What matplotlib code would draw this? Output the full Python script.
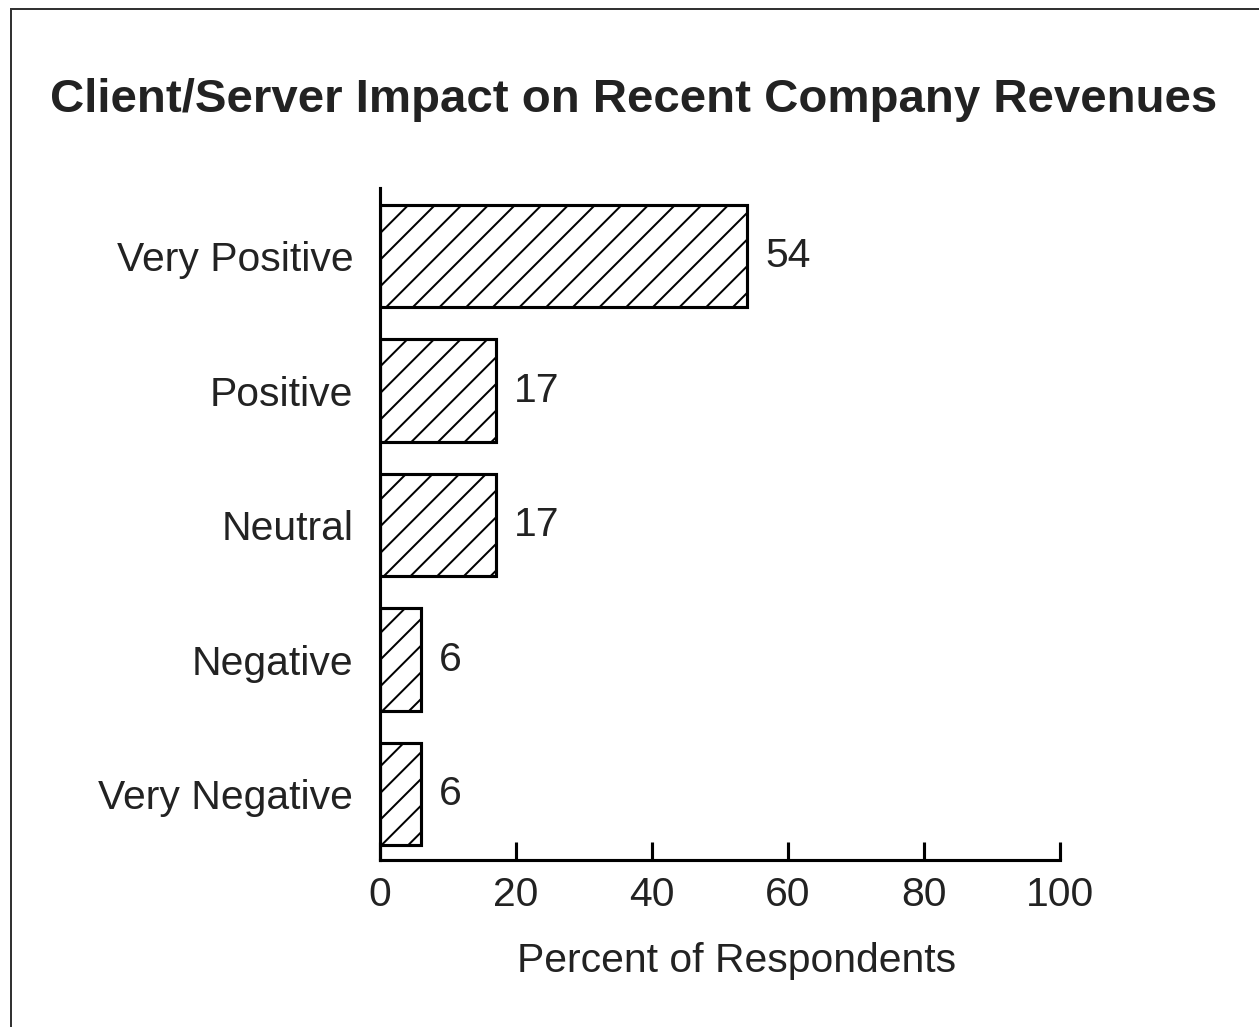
import matplotlib
matplotlib.use("Agg")
import matplotlib.pyplot as plt
from matplotlib.lines import Line2D

categories = ["Very Positive", "Positive", "Neutral", "Negative", "Very Negative"]
percents = [54, 17, 17, 6, 6]
xticks = [0, 20, 40, 60, 80, 100]

plt.rcParams['font.family'] = ['Liberation Sans', 'DejaVu Sans']
plt.rcParams['hatch.linewidth'] = 0.9
ink = '#222222'

dpi = 160
fig = plt.figure(figsize=(1259 / dpi, 1027 / dpi), dpi=dpi)
ax = fig.add_axes([380 / 1259, 167 / 1027, 680 / 1259, 672 / 1027])

ypos = list(range(len(categories) - 1, -1, -1))
ax.barh(ypos, percents, height=0.76, color='white', edgecolor='black',
        linewidth=1.4, hatch='//')

for y, v in zip(ypos, percents):
    ax.annotate(str(v), xy=(v, y), xytext=(8, 0), textcoords='offset points',
                va='center', ha='left', fontsize=18.4, color=ink)

ax.set_xlim(0, 100)
ax.set_ylim(-0.49, 4.506)
ax.set_xticks(xticks)
ax.set_yticks(ypos)
ax.set_yticklabels(categories)

for s in ['top', 'right']:
    ax.spines[s].set_visible(False)
for s in ['left', 'bottom']:
    ax.spines[s].set_linewidth(1.4)
    ax.spines[s].set_color('black')

ax.tick_params(axis='x', direction='in', length=8, width=1.4, pad=7,
               labelsize=18.4, labelcolor=ink)
ax.tick_params(axis='y', length=0, pad=12, labelsize=18.4, labelcolor=ink)

ax.set_xlabel("Percent of Respondents", fontsize=18.4, color=ink, va='center')
ax.xaxis.set_label_coords(0.525, -0.15)

fig.text(0.503, 1 - 100 / 1027, "Client/Server Impact on Recent Company Revenues",
         ha='center', va='center', fontsize=21.3, fontweight='bold', color=ink)

# scanned page frame: top and left edges only
fig.add_artist(Line2D([11 / 1259, 11 / 1259], [0, 1 - 9 / 1027],
                      transform=fig.transFigure, color='#333333', linewidth=0.9))
fig.add_artist(Line2D([11 / 1259, 1], [1 - 9 / 1027, 1 - 9 / 1027],
                      transform=fig.transFigure, color='#333333', linewidth=0.9))

fig.savefig("out.png", dpi=dpi)
